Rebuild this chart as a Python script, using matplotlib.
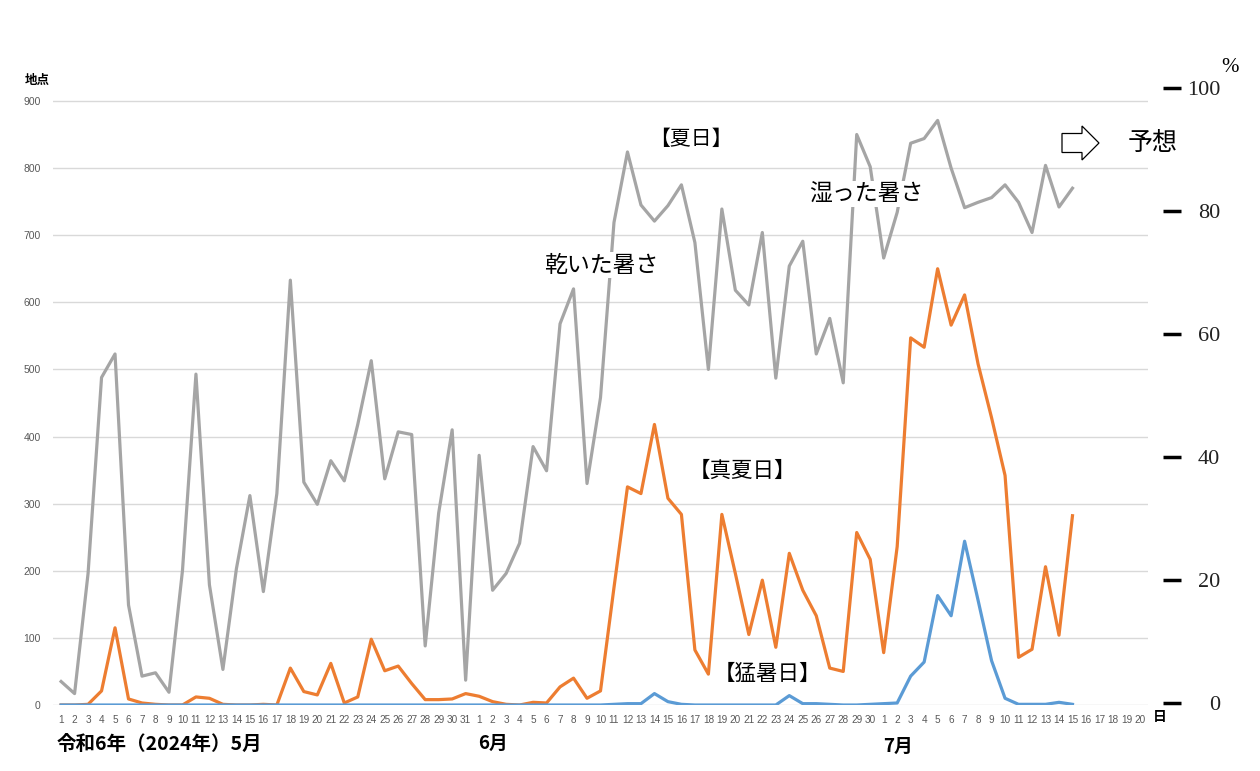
import numpy as np
import matplotlib.pyplot as plt
from matplotlib.patches import FancyArrow
from matplotlib.transforms import IdentityTransform

plt.rcParams['font.family'] = ['Noto Sans CJK JP', 'DejaVu Sans']

# days: May 1-31, June 1-30, July 1-20
days = list(range(1, 32)) + list(range(1, 31)) + list(range(1, 21))

# 夏日 (gray), May 1 .. Jul 15
natsubi = [35, 17, 196, 488, 523, 149, 43, 48, 19, 200, 493, 179, 53, 203, 312, 169, 315, 633,
           332, 299, 364, 334, 418, 513, 337, 407, 403, 88, 286, 410, 37,
           372, 171, 196, 241, 385, 349, 568, 620, 330, 458, 719, 824, 745, 721, 744, 775, 689,
           500, 739, 618, 596, 704, 487, 654, 691, 523, 576, 480, 850, 802,
           666, 734, 837, 844, 871, 800, 741, 749, 756, 775, 749, 704, 804, 742, 770]

# 真夏日 (orange)
manatsubi = [0, 0, 1, 21, 115, 9, 3, 1, 0, 0, 12, 10, 1, 0, 0, 1, 0, 55,
             20, 15, 62, 3, 12, 98, 51, 58, 32, 8, 8, 9, 17,
             13, 5, 1, 0, 4, 3, 27, 40, 10, 21, 175, 325, 315, 418, 308, 284, 82,
             46, 284, 196, 105, 186, 86, 226, 171, 133, 55, 50, 257, 217,
             78, 236, 547, 533, 650, 566, 611, 508, 428, 342, 71, 83, 206, 104, 282]

# 猛暑日 (blue)
moshobi = [0] * 31 + \
          [0, 0, 0, 0, 0, 0, 0, 0, 0, 0, 1, 2, 2, 17, 5, 1, 0,
           0, 0, 0, 0, 0, 0, 14, 2, 2, 1, 0, 0, 1] + \
          [2, 3, 43, 64, 163, 133, 244, 156, 66, 10, 1, 1, 1, 4, 1]

left_ticks = list(range(0, 901, 100))
right_ticks = [0, 20, 40, 60, 80, 100]

W, H = 1260, 771
fig = plt.figure(figsize=(W / 100, H / 100), dpi=100)
ax = fig.add_axes([53 / W, 66 / H, (1148 - 53) / W, 637.6 / H])

x = np.arange(len(natsubi))
ax.plot(x, natsubi, color='#A5A5A5', lw=2.3, zorder=3)
ax.plot(x, manatsubi, color='#ED7D31', lw=2.3, zorder=4)
ax.plot(x, moshobi, color='#5B9BD5', lw=2.3, zorder=5)

ax.set_xlim(-0.6, len(days) - 0.4)
ax.set_ylim(0, 950)
ax.set_yticks(left_ticks)
ax.set_xticks(np.arange(len(days)))
ax.set_xticklabels([str(d) for d in days], fontsize=7.2, color='#595959',
                   family=['Liberation Sans', 'DejaVu Sans'])
ax.tick_params(axis='x', length=0, pad=7)
ax.tick_params(axis='y', length=0, pad=9, labelsize=7.5, labelcolor='#595959')
for lab in ax.get_yticklabels():
    lab.set_family(['Liberation Sans', 'DejaVu Sans'])
ax.grid(axis='y', color='#d9d9d9', lw=1)
ax.set_axisbelow(True)
for s in ax.spines.values():
    s.set_visible(False)

# right axis (%)
ax2 = ax.twinx()
ax2.set_ylim(-0.33, 103.35)
ax2.set_yticks(right_ticks)
ax2.spines['right'].set_position(('outward', 11))
for s in ax2.spines.values():
    s.set_visible(False)
ax2.tick_params(axis='y', length=13, width=2.5, color='black', pad=28, labelsize=16)
for lab in ax2.get_yticklabels():
    lab.set_family(['Liberation Serif', 'DejaVu Serif'])
    lab.set_horizontalalignment('right')
    lab.set_color('#222222')

def ftext(px, py, s, **kw):
    fig.text(px / W, 1 - py / H, s, **kw)

ftext(1230, 68, '%', fontsize=15, family=['Liberation Serif'], ha='center', va='center')
ftext(25, 80, '地点', fontsize=9, fontweight='bold', ha='left', va='center')
ftext(1153, 717, '日', fontsize=10, fontweight='bold', ha='left', va='center')

ftext(57, 744, '令和6年（2024年）5月', fontsize=14, fontweight='bold', ha='left', va='center')
ftext(478, 743, '6月', fontsize=13.5, fontweight='bold', ha='left', va='center')
ftext(883, 746, '7月', fontsize=13.5, fontweight='bold', ha='left', va='center')

box = dict(facecolor='white', edgecolor='none', pad=1)
ftext(691, 139, '【夏日】', fontsize=15, ha='center', va='center', bbox=box, zorder=10)
ftext(601, 265, '乾いた暑さ', fontsize=16.5, ha='center', va='center', bbox=box, zorder=10)
ftext(866, 194, '湿った暑さ', fontsize=16.5, ha='center', va='center', bbox=box, zorder=10)
ftext(742, 471, '【真夏日】', fontsize=15.5, ha='center', va='center', bbox=box, zorder=10)
ftext(767, 674, '【猛暑日】', fontsize=15.5, ha='center', va='center', bbox=box, zorder=10)
ftext(1153, 143, '予想', fontsize=18, ha='center', va='center')

arrow = FancyArrow(1062, H - 143, 37, 0, width=19, head_width=34, head_length=17,
                   length_includes_head=True, fc='white', ec='black', lw=0.9,
                   transform=IdentityTransform())
fig.add_artist(arrow)

fig.savefig('out.png', dpi=100, facecolor='white')
